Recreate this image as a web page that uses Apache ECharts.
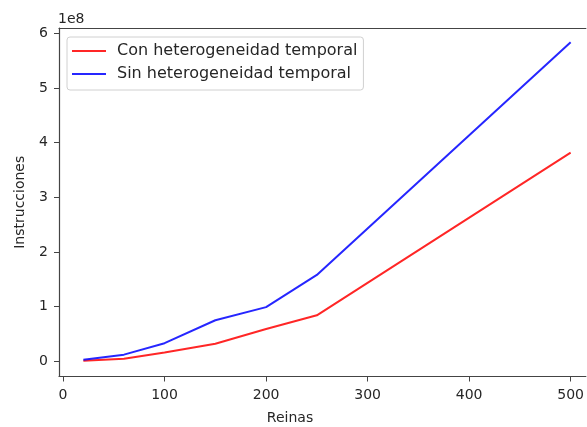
<!DOCTYPE html>
<html><head><meta charset="utf-8">
<script src="https://cdn.jsdelivr.net/npm/echarts@6/dist/echarts.min.js"></script>
<style>html,body{margin:0;padding:0;background:#fff}#c{width:587px;height:427px}</style>
</head><body><div id="c"></div>
<script>
const reinas = [20, 60, 100, 150, 200, 250, 500];
const conHet = [0.01e8, 0.045e8, 0.16e8, 0.32e8, 0.59e8, 0.84e8, 3.82e8];
const sinHet = [0.025e8, 0.12e8, 0.33e8, 0.75e8, 0.99e8, 1.58e8, 5.84e8];
const xTicks = [0, 100, 200, 300, 400, 500];
const yTicks = [0, 1e8, 2e8, 3e8, 4e8, 5e8, 6e8];
const seriesNames = ['Con heterogeneidad temporal', 'Sin heterogeneidad temporal'];

const font = 'DejaVu Sans';
const chart = echarts.init(document.getElementById('c'), null, {renderer: 'canvas'});
const axisCol = '#444';
const txtCol = '#262626';
const xMin = -4, xMax = 515;
chart.setOption({
  animation: false,
  backgroundColor: '#fff',
  grid: {left: 59, top: 28, right: 0, bottom: 50.5, show: false},
  textStyle: {fontFamily: font},
  xAxis: [{
    type: 'value', min: xMin, max: xMax, position: 'bottom',
    axisLine: {show: true, onZero: false, lineStyle: {color: axisCol, width: 1.2}},
    axisTick: {show: true, length: 5, customValues: xTicks, lineStyle: {color: axisCol}},
    axisLabel: {customValues: xTicks, fontSize: 14, color: txtCol, margin: 12, fontFamily: font},
    splitLine: {show: false}
  }, {
    type: 'value', min: xMin, max: xMax, position: 'top',
    axisLine: {show: true, onZero: false, lineStyle: {color: axisCol, width: 1.2}},
    axisTick: {show: false}, axisLabel: {show: false}, splitLine: {show: false}
  }],
  yAxis: {
    type: 'value', min: -0.28e8, max: 6.1e8,
    axisLine: {show: true, onZero: false, lineStyle: {color: axisCol, width: 1.2}},
    axisTick: {show: true, length: 5, customValues: yTicks, lineStyle: {color: axisCol}},
    axisLabel: {customValues: yTicks, fontSize: 14, color: txtCol, margin: 11, fontFamily: font,
      formatter: v => String(Math.round(v / 1e8))},
    splitLine: {show: false},
    name: 'Instrucciones', nameLocation: 'middle', nameGap: 32, nameRotate: 90,
    nameTextStyle: {fontSize: 14, color: txtCol, fontFamily: font}
  },
  legend: {
    orient: 'vertical', left: 67, top: 37,
    data: seriesNames,
    icon: 'rect', itemWidth: 34, itemHeight: 2, itemGap: 7,
    backgroundColor: '#fff', borderColor: '#d0d0d0', borderWidth: 1, borderRadius: 3,
    padding: [6, 6, 8, 5],
    textStyle: {fontSize: 16, color: txtCol, fontFamily: font, padding: [0, 0, 0, 6]}
  },
  graphic: [
    {type: 'text', left: 58, top: 12, style: {text: '1e8', font: '14px "DejaVu Sans"', fill: txtCol}},
    {type: 'text', x: 290, y: 418, style: {text: 'Reinas', font: '14px "DejaVu Sans"', fill: txtCol, align: 'center', verticalAlign: 'middle'}}
  ],
  series: [
    {name: seriesNames[0], type: 'line', data: reinas.map((x, i) => [x, conHet[i]]),
     showSymbol: false, symbol: 'none', lineStyle: {color: '#ff0000', width: 2, opacity: 0.85}, itemStyle: {color: 'rgba(255,0,0,0.85)'}},
    {name: seriesNames[1], type: 'line', data: reinas.map((x, i) => [x, sinHet[i]]),
     showSymbol: false, symbol: 'none', lineStyle: {color: '#0000ff', width: 2, opacity: 0.85}, itemStyle: {color: 'rgba(0,0,255,0.85)'}}
  ]
});
</script></body></html>
